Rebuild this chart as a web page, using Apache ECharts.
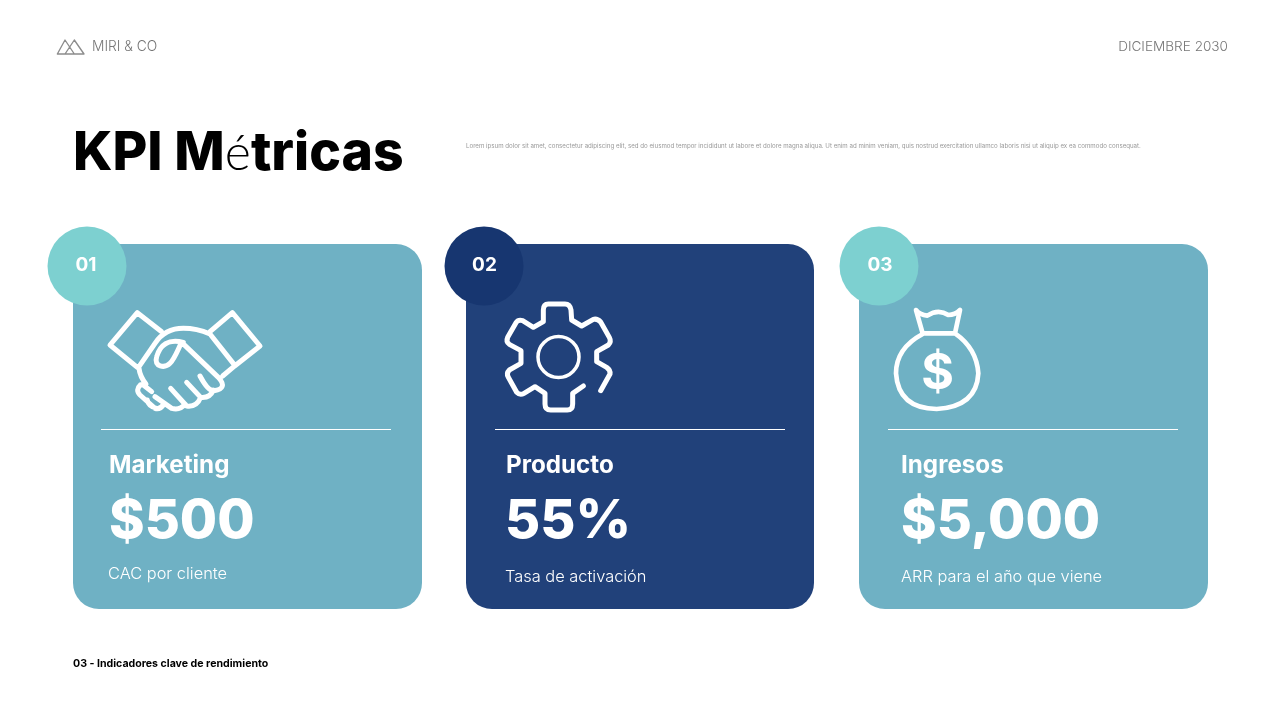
<!DOCTYPE html>
<html>
<head>
<meta charset="utf-8">
<title>KPI Métricas</title>
<script src="https://cdn.jsdelivr.net/npm/echarts@6/dist/echarts.min.js"></script>
<style>
html, body { margin: 0; padding: 0; background: #fff; }
#main { width: 1280px; height: 720px; }
</style>
</head>
<body>
<div id="main"></div>
<script>
// slide content
var brandName = 'MIRI & CO';
var dateLabel = 'DICIEMBRE 2030';
var titleParts = ['KPI M', 'é', 'tricas'];
var introText = 'Lorem ipsum dolor sit amet, consectetur adipiscing elit, sed do eiusmod tempor incididunt ut labore et dolore magna aliqua. Ut enim ad minim veniam, quis nostrud exercitation ullamco laboris nisi ut aliquip ex ea commodo consequat.';
var footerText = '03 - Indicadores clave de rendimiento';

var cardNumbers = ['01', '02', '03'];
var cardTitles = ['Marketing', 'Producto', 'Ingresos'];
var cardValues = ['$500', '55%', '$5,000'];
var cardNotes = ['CAC por cliente', 'Tasa de activación', 'ARR para el año que viene'];

// layout, one entry per card
var cardLeft = [73, 466, 859];
var cardRight = [422, 814, 1208];
var badgeX = [87, 484, 879];
var numberX = [86, 484.5, 880];
var ruleLeft = [101, 495, 888];
var titleX = [109, 506, 901];
var valueX = [109, 505, 901];
var noteX = [108, 505, 901];
var noteY = [574, 577, 577];
var cardColors = ['#6fb1c4', '#21417a', '#6fb1c4'];
var badgeColors = ['#7dd0d0', '#173670', '#7dd0d0'];

var headFont = 'Inter, sans-serif';
var bodyFont = 'Inter, sans-serif';
var accentFont = 'Lato, sans-serif';

// icon outlines, drawn at 3x and scaled down into place
var logoPath = 'M52 87H132L103 45L75 87M52 87L75 45L103 87';
var handPath = [
    'M365 335L292 278L210 375L293 443',
    'M510 335L577 278L660 378L585 437',
    'M297 440L345 370Q375 325 430 325Q470 325 510 342L585 437L548 468',
    'M430 367C385 355 360 375 350 410C340 442 375 445 390 430C405 415 415 385 425 367L535 472Q565 505 522 512Q505 515 480 468',
    'M520 510Q510 535 482 532L440 487',
    'M482 532Q470 562 440 558L392 505',
    'M435 552Q420 572 395 565L345 530',
    'M297 445Q300 470 318 492L302 494Q285 510 300 525L345 565Q360 570 372 552',
    'M322 540Q325 560 350 565',
    'M310 495L335 515'
].join('');
var gearPath = 'M482 512L510 462Q512 450 500 442L470 425L470 395L505 375Q515 365 508 352L482 306Q472 295 460 298L425 318L395 300L393 270Q390 252 375 252L325 252Q310 252 310 270L310 305L280 322L248 302Q235 298 228 308L203 352Q197 365 208 373L243 392L243 430L208 450Q198 460 205 472L230 517Q240 527 252 520L285 500L315 520L315 552Q315 570 332 570L382 570Q398 570 398 552L398 520L430 498';
var bagPath = 'M228 270Q240 285 262 287Q295 265 325 285Q345 285 360 270L345 340L248 340ZM248 342Q168 385 168 460Q175 565 290 567Q410 560 415 460Q410 385 345 340';

echarts.graphic.registerShape('logoIcon', echarts.graphic.extendPath(logoPath));
echarts.graphic.registerShape('handIcon', echarts.graphic.extendPath(handPath));
echarts.graphic.registerShape('gearIcon', echarts.graphic.extendPath(gearPath));
echarts.graphic.registerShape('bagIcon', echarts.graphic.extendPath(bagPath));

var myChart = echarts.init(document.getElementById('main'), null, { renderer: 'canvas' });

var elements = [];

function addText(text, x, y, size, weight, color, family, align) {
    elements.push({
        type: 'text',
        x: x,
        y: y,
        style: {
            text: text,
            fontSize: size,
            fontWeight: weight,
            fontFamily: family,
            fill: color,
            align: align || 'left',
            verticalAlign: 'middle'
        }
    });
}

function addIcon(shapeName, x, y, width, color) {
    elements.push({
        type: shapeName,
        x: x,
        y: y,
        scaleX: 1 / 3,
        scaleY: 1 / 3,
        style: {
            fill: 'none',
            stroke: color || '#fff',
            lineWidth: width,
            lineCap: 'round',
            lineJoin: 'round'
        }
    });
}

// header
addIcon('logoIcon', 40, 25, 4, '#8c8c8c');
addText(brandName, 92, 47, 13.8, 300, '#777', bodyFont);
addText(dateLabel, 1228, 47, 13.6, 300, '#777', bodyFont, 'right');

// title, the é is set lighter in the original
elements.push({
    type: 'text',
    x: 73,
    y: 153.5,
    style: {
        text: '{b|' + titleParts[0] + '}{t|' + titleParts[1] + '}{b|' + titleParts[2] + '}',
        verticalAlign: 'middle',
        rich: {
            b: { fontSize: 53.5, fontWeight: 800, fontFamily: headFont, fill: '#000' },
            t: { fontSize: 50, fontWeight: 300, fontFamily: accentFont, fill: '#000' }
        }
    }
});
addText(introText, 466, 146.5, 6.15, 400, '#999', bodyFont);
addText(footerText, 73, 663.5, 10.6, 700, '#000', headFont);

// cards
cardNumbers.forEach(function (num, i) {
    elements.push({
        type: 'rect',
        shape: { x: cardLeft[i], y: 244, width: cardRight[i] - cardLeft[i], height: 365, r: 26 },
        style: { fill: cardColors[i] }
    });
    elements.push({
        type: 'circle',
        shape: { cx: badgeX[i], cy: 266, r: 39.5 },
        style: { fill: badgeColors[i] }
    });
    addText(num, numberX[i], 265.5, 19, 700, '#fff', headFont, 'center');
    elements.push({
        type: 'line',
        shape: { x1: ruleLeft[i], y1: 429.5, x2: ruleLeft[i] + 290, y2: 429.5 },
        style: { stroke: '#fff', lineWidth: 1 }
    });
    addText(cardTitles[i], titleX[i], 465.5, 24.2, 700, '#fff', headFont);
    addText(cardValues[i], valueX[i], 522, 54, 800, '#fff', headFont);
    addText(cardNotes[i], noteX[i], noteY[i], 16.4, 300, '#fff', bodyFont);
});

addIcon('handIcon', 40, 220, 15);
addIcon('gearIcon', 440, 220, 15);
elements.push({
    type: 'circle',
    shape: { cx: 558.5, cy: 357, r: 20.5 },
    style: { fill: 'none', stroke: '#fff', lineWidth: 3.5 }
});
addIcon('bagIcon', 840, 220, 14);
addText('$', 937.5, 374, 50, 700, '#fff', headFont, 'center');

var option = {
    backgroundColor: '#fff',
    animation: false,
    graphic: { elements: elements }
};

myChart.setOption(option);
window.addEventListener('resize', myChart.resize);
</script>
</body>
</html>
